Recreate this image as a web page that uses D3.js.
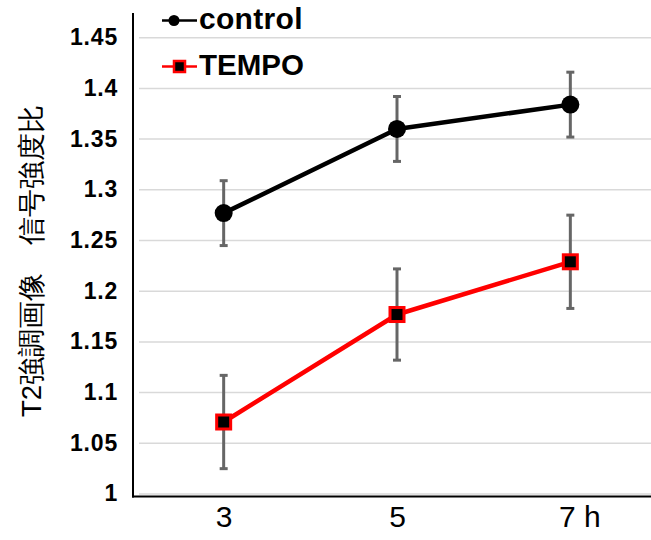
<!DOCTYPE html>
<html><head><meta charset="utf-8">
<script src="https://cdn.jsdelivr.net/npm/d3@7"></script>
<style>
body{margin:0;background:#fff;}
text{font-family:"Liberation Sans",Arial,Helvetica,sans-serif;}
</style></head>
<body><svg id="c" width="651" height="540"></svg>
<script>
const categories = ["3","5","7"];
const xTickLabels = ["3","5","7 h"];
const controlMean = [1.277, 1.360, 1.384];
const controlErr  = [0.032, 0.032, 0.032];
const tempoMean   = [1.071, 1.177, 1.229];
const tempoErr    = [0.046, 0.045, 0.046];
const yTicks = [1,1.05,1.1,1.15,1.2,1.25,1.3,1.35,1.4,1.45];
const seriesNames = ["control","TEMPO"];

const svg = d3.select("#c");
const x = d3.scalePoint().domain(categories).range([137,657]).padding(0.5);
const y = d3.scaleLinear().domain([1,1.45]).range([494,37.7]);

// gridlines
svg.append("g").selectAll("line").data(yTicks).join("line")
  .attr("x1",139).attr("x2",651)
  .attr("y1",d=>y(d)).attr("y2",d=>y(d))
  .attr("stroke","#d9d9d9").attr("stroke-width",1.5);

// y tick labels
const yAxis = svg.append("g").attr("transform","translate(118,0)")
  .call(d3.axisLeft(y).tickValues(yTicks).tickSize(0).tickPadding(0)
    .tickFormat(d=>d3.format("~g")(d)));
yAxis.select(".domain").remove();
yAxis.selectAll("text").attr("font-size",23).attr("font-weight","bold")
  .attr("letter-spacing","0.8px").attr("dy","0.3em")
  .attr("fill","#000").attr("font-family","Liberation Sans, Arial, sans-serif");

// x tick labels
const xAxis = svg.append("g").attr("transform","translate(0,497)")
  .call(d3.axisBottom(x).tickSize(0).tickPadding(9).tickFormat((d,i)=>xTickLabels[i]));
xAxis.select(".domain").remove();
xAxis.selectAll("text").attr("font-size",30).attr("fill","#000")
  .attr("font-family","Liberation Sans, Arial, sans-serif");
xAxis.selectAll(".tick").filter((d,i)=>i===2).select("text").attr("dx","0.3em");

// axis lines
svg.append("line").attr("x1",133).attr("x2",133).attr("y1",13).attr("y2",497.5)
  .attr("stroke","#000").attr("stroke-width",2);
svg.append("line").attr("x1",132).attr("x2",651).attr("y1",496.5).attr("y2",496.5)
  .attr("stroke","#000").attr("stroke-width",2);

// y axis title
svg.append("text").attr("transform","translate(31,261) rotate(-90)")
  .attr("text-anchor","middle").attr("dominant-baseline","central")
  .attr("font-size",27.5).attr("font-family","Noto Sans CJK JP, sans-serif")
  .text("T2強調画像　信号強度比");

function drawSeries(mean, err, color, marker){
  const g = svg.append("g");
  categories.forEach((c,i)=>{
    const cx = x(c), t = y(mean[i]+err[i]), b = y(mean[i]-err[i]);
    g.append("line").attr("x1",cx).attr("x2",cx).attr("y1",t).attr("y2",b)
      .attr("stroke","#666").attr("stroke-width",3);
    [t,b].forEach(yy=>g.append("line").attr("x1",cx-4).attr("x2",cx+4)
      .attr("y1",yy).attr("y2",yy).attr("stroke","#666").attr("stroke-width",3));
  });
  const line = d3.line().x((d,i)=>x(categories[i])).y(d=>y(d));
  g.append("path").datum(mean).attr("d",line).attr("fill","none")
    .attr("stroke",color).attr("stroke-width",4.5).attr("stroke-linejoin","round");
  if(marker==="circle"){
    g.selectAll("circle").data(mean).join("circle")
      .attr("cx",(d,i)=>x(categories[i])).attr("cy",d=>y(d)).attr("r",9).attr("fill","#000");
  } else {
    g.selectAll("rect.m").data(mean).join("rect").attr("class","m")
      .attr("x",(d,i)=>x(categories[i])-7).attr("y",d=>y(d)-7)
      .attr("width",14).attr("height",14).attr("fill","#000")
      .attr("stroke","#ff0000").attr("stroke-width",3);
  }
}
drawSeries(controlMean, controlErr, "#000", "circle");
drawSeries(tempoMean, tempoErr, "#ff0000", "square");

// legend
const leg = svg.append("g");
leg.append("line").attr("x1",162).attr("x2",197).attr("y1",20.5).attr("y2",20.5)
  .attr("stroke","#000").attr("stroke-width",2.5);
leg.append("circle").attr("cx",174).attr("cy",20.5).attr("r",5.5).attr("fill","#000");
leg.append("text").attr("x",199).attr("y",29).attr("font-size",30)
  .attr("font-weight","bold").attr("letter-spacing","0.3px").text(seriesNames[0]);
leg.append("line").attr("x1",162).attr("x2",197).attr("y1",66.5).attr("y2",66.5)
  .attr("stroke","#ff0000").attr("stroke-width",2.5);
leg.append("rect").attr("x",174).attr("y",61).attr("width",11).attr("height",11)
  .attr("fill","#000").attr("stroke","#ff0000").attr("stroke-width",2.5);
leg.append("text").attr("x",199).attr("y",75).attr("font-size",29.5)
  .attr("font-weight","bold").text(seriesNames[1]);
</script></body></html>
